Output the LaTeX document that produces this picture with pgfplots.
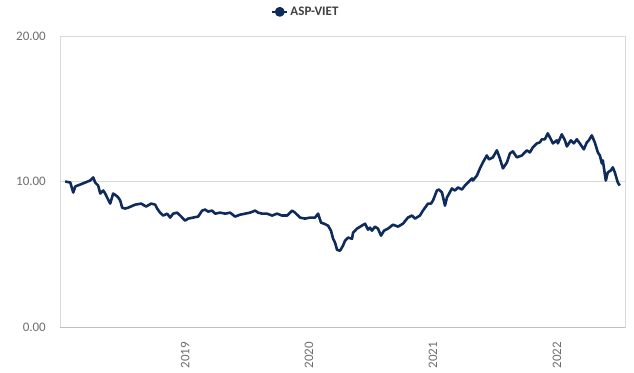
\documentclass[border=0pt]{standalone}
\usepackage{pgfplots}
\pgfplotsset{compat=1.18}
\usepackage{fontspec}
\setmainfont{Carlito}
\definecolor{navy}{RGB}{14,43,92}
\definecolor{ticktext}{RGB}{110,110,110}
\definecolor{framegray}{RGB}{217,217,217}
\definecolor{axisgray}{RGB}{191,191,191}
\definecolor{legtext}{RGB}{64,64,64}
\begin{document}
\begin{tikzpicture}
\path[use as bounding box] (-60pt,-45pt) rectangle (574pt,327pt);
\begin{axis}[
  scale only axis,
  width=565pt, height=291pt,
  xmin=2017.99, xmax=2022.55,
  ymin=0, ymax=20,
  xtick={2019,2020,2021,2022},
  xticklabels={2019,2020,2021,2022},
  ytick={0,10,20},
  yticklabels={0.00,10.00,20.00},
  major tick length=0pt,
  tick label style={font=\fontsize{13}{15}\selectfont, text=ticktext},
  yticklabel style={anchor=east, inner sep=0pt, xshift=-14pt},
  xticklabel style={yshift=-15pt, rotate=90, anchor=east, inner sep=0pt},
  axis line style={framegray, line width=0.8pt},
  ymajorgrids,
  grid style={framegray, line width=0.8pt},
  legend style={draw=none, fill=none, at={(rel axis cs:0.435,1.083)}, anchor=center,
    font=\fontsize{13}{15}\selectfont\bfseries, text=legtext},
  legend image code/.code={
    \draw[navy, line width=2.4pt] (0pt,0pt) -- (15pt,0pt);
    \fill[navy] (7.5pt,0pt) circle (3.6pt);
  },
]
\draw[axisgray, line width=0.9pt] (rel axis cs:0,0) -- (rel axis cs:1,0);
\addplot[navy, line width=2.6pt, line join=round] coordinates {
(2018.032,10.00) (2018.073,9.93) (2018.097,9.24) (2018.113,9.66) (2018.153,9.79)
(2018.194,9.93) (2018.234,10.07) (2018.258,10.28) (2018.274,9.93) (2018.298,9.72)
(2018.315,9.17) (2018.339,9.38) (2018.355,9.17) (2018.395,8.48) (2018.419,9.17)
(2018.444,9.03) (2018.460,8.90) (2018.476,8.69) (2018.492,8.20) (2018.516,8.14)
(2018.540,8.20) (2018.597,8.41) (2018.645,8.48) (2018.685,8.28) (2018.726,8.48)
(2018.758,8.41) (2018.774,8.14) (2018.798,7.86) (2018.823,7.66) (2018.855,7.79)
(2018.879,7.52) (2018.903,7.79) (2018.935,7.86) (2018.960,7.66) (2019.000,7.31)
(2019.024,7.45) (2019.065,7.52) (2019.105,7.59) (2019.137,8.00) (2019.161,8.07)
(2019.185,7.93) (2019.218,8.00) (2019.242,7.79) (2019.282,7.86) (2019.323,7.79)
(2019.363,7.86) (2019.403,7.59) (2019.444,7.72) (2019.484,7.79) (2019.524,7.86)
(2019.565,8.00) (2019.589,7.86) (2019.621,7.79) (2019.661,7.79) (2019.702,7.66)
(2019.742,7.79) (2019.782,7.66) (2019.823,7.66) (2019.863,8.00) (2019.887,7.86)
(2019.927,7.52) (2019.968,7.45) (2020.008,7.52) (2020.048,7.52) (2020.073,7.79)
(2020.097,7.17) (2020.121,7.10) (2020.153,6.97) (2020.177,6.62) (2020.194,6.07)
(2020.210,5.79) (2020.226,5.31) (2020.250,5.24) (2020.274,5.59) (2020.290,5.93)
(2020.315,6.14) (2020.347,6.07) (2020.355,6.48) (2020.387,6.76) (2020.427,6.97)
(2020.452,7.10) (2020.476,6.69) (2020.492,6.83) (2020.508,6.62) (2020.532,6.90)
(2020.556,6.76) (2020.581,6.28) (2020.605,6.62) (2020.637,6.76) (2020.677,7.03)
(2020.718,6.90) (2020.758,7.10) (2020.798,7.52) (2020.831,7.66) (2020.855,7.45)
(2020.895,7.66) (2020.919,8.00) (2020.960,8.48) (2020.984,8.48) (2021.000,8.69)
(2021.032,9.38) (2021.048,9.45) (2021.073,9.24) (2021.097,8.34) (2021.113,8.90)
(2021.153,9.52) (2021.177,9.38) (2021.202,9.59) (2021.234,9.45) (2021.258,9.72)
(2021.282,9.93) (2021.315,10.21) (2021.323,10.07) (2021.355,10.41) (2021.379,10.90)
(2021.403,11.31) (2021.435,11.79) (2021.452,11.52) (2021.484,11.66) (2021.516,12.14)
(2021.540,11.59) (2021.565,10.90) (2021.597,11.31) (2021.621,11.93) (2021.645,12.07)
(2021.677,11.66) (2021.718,11.79) (2021.758,12.14) (2021.782,12.00) (2021.806,12.34)
(2021.839,12.62) (2021.863,12.69) (2021.879,12.90) (2021.903,12.90) (2021.927,13.31)
(2021.944,13.03) (2021.968,12.62) (2022.000,12.83) (2022.008,12.62) (2022.040,13.24)
(2022.065,12.83) (2022.081,12.41) (2022.113,12.83) (2022.137,12.62) (2022.161,12.90)
(2022.185,12.62) (2022.218,12.21) (2022.242,12.69) (2022.258,12.83) (2022.282,13.17)
(2022.306,12.69) (2022.331,12.00) (2022.347,11.79) (2022.363,11.24) (2022.371,11.45)
(2022.395,10.07) (2022.411,10.62) (2022.435,10.76) (2022.452,10.97) (2022.468,10.62)
(2022.492,9.93) (2022.508,9.72)
};
\addlegendentry{ASP-VIET}
\end{axis}
\end{tikzpicture}
\end{document}
